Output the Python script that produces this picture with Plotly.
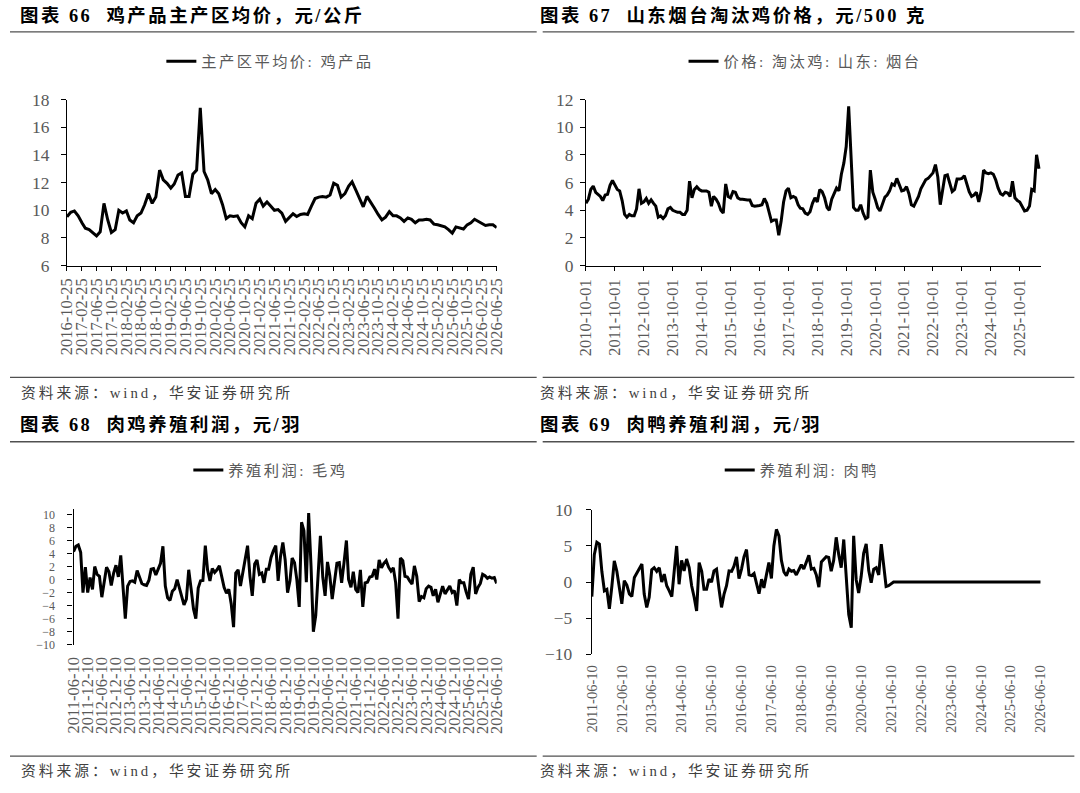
import pandas as pd
import plotly.graph_objects as go

W, H = 1080, 793

# 图表66 鸡产品主产区均价, 元/公斤 (month by month, from 2016-10-25)
egg_start = "2016-10-25"
egg_end = "2026-06-25"
egg_price = [
    9.53, 9.85, 9.95, 9.6, 9.1, 8.7, 8.6, 8.35, 8.15, 8.45,
    10.5, 9.3, 8.4, 8.6, 10.0, 9.8, 9.95, 9.3, 9.1, 9.6,
    9.8, 10.4, 11.2, 10.5, 10.95, 12.9, 12.2, 11.95, 11.6, 11.9,
    12.55, 12.7, 11.0, 11.0, 12.6, 12.9, 17.4, 12.8, 12.2, 11.2,
    11.5, 11.2, 10.4, 9.4, 9.6, 9.55, 9.6, 9.1, 8.8, 9.6,
    9.4, 10.5, 10.8, 10.3, 10.6, 10.3, 10.0, 10.05, 9.8, 9.2,
    9.5, 9.75, 9.55, 9.7, 9.75, 9.7, 10.3, 10.85, 10.95, 11.0,
    10.95, 11.1, 11.95, 11.8, 10.95, 11.2, 11.75, 12.05, 11.45, 10.85,
    10.25, 11.0, 10.6, 10.15, 9.7, 9.3, 9.5, 9.9, 9.6, 9.6,
    9.45, 9.2, 9.45, 9.35, 9.1, 9.3, 9.3, 9.35, 9.3, 9.0,
    8.95, 8.9, 8.8, 8.6, 8.35, 8.8, 8.7, 8.65, 8.95, 9.1,
    9.35, 9.2, 9.05, 8.9, 8.95, 8.95, 8.75,
]

# 图表67 山东烟台淘汰鸡价格, 元/500克 (from 2010-10-01)
hen_start = "2010-10-01"
hen_end = "2026-07-01"
hen_price = [
    4.5, 4.8, 5.5, 5.75, 5.3, 5.15, 5.0, 4.7, 5.1, 5.15,
    5.8, 6.15, 5.8, 5.5, 5.4, 4.7, 3.7, 3.5, 3.7, 3.6,
    3.6, 4.1, 5.55, 4.5, 4.6, 4.85, 4.5, 4.75, 4.5, 4.3,
    3.5, 3.6, 3.4, 3.6, 4.1, 4.2, 4.0, 3.9, 3.85, 3.85,
    3.7, 3.7, 4.0, 6.1, 4.9, 5.5, 5.7, 5.5, 5.4, 5.4,
    5.4, 5.3, 4.3, 5.0, 4.8, 4.5, 4.0, 3.8, 5.9, 5.0,
    4.9, 5.35, 5.3, 4.9, 4.8, 4.8, 4.75, 4.75, 4.75, 4.35,
    4.3, 4.3, 4.35, 4.4, 4.85, 4.5, 3.9, 3.2, 3.3, 3.3,
    2.2, 3.2, 4.6, 5.4, 5.6, 4.9, 5.0, 4.9, 4.4, 4.15,
    4.1, 3.8, 3.7, 3.9, 4.5, 4.9, 4.6, 5.5, 5.35, 4.9,
    4.2, 4.0, 4.8, 5.2, 5.6, 5.4, 6.6, 7.4, 8.6, 11.5,
    7.4, 4.2, 4.0, 4.0, 4.4, 3.8, 3.4, 3.5, 6.9, 5.3,
    4.8, 4.2, 3.95, 4.5, 4.95, 5.1, 5.4, 5.9, 5.8, 6.3,
    5.8, 5.4, 5.45, 5.7, 5.2, 4.4, 4.3, 4.6, 5.0, 5.55,
    5.9, 6.2, 6.3, 6.5, 6.7, 7.3, 6.4, 4.4, 5.6, 6.5,
    6.55, 6.0, 5.35, 5.5, 6.25, 6.25, 6.3, 6.5, 5.95, 5.35,
    5.0, 5.1, 5.3, 4.6, 5.4, 6.9, 6.7, 6.65, 6.7, 6.6,
    6.2, 5.6, 5.2, 5.1, 5.3, 5.25, 5.0, 6.1, 4.9, 4.7,
    4.6, 4.25, 3.95, 4.0, 4.3, 5.5, 5.4, 8.0, 7.0,
]

# 图表68 肉鸡养殖利润, 元/羽 (from 2011-06-10)
broiler_start = "2011-06-10"
broiler_end = "2026-06-10"
broiler_profit = [
    4.3, 5.1, 5.3, 4.2, -2.0, 1.9, -2.0, 0.3, -1.5, 2.0,
    0.8, 0.5, -2.7, -0.5, 1.9, 1.2, -0.9, 1.0, 2.2, 0.4,
    3.7, -0.9, -6.0, -1.0, -0.3, -0.2, -0.4, 1.4, 0.3, -0.6,
    -0.8, -0.9, -0.1, 1.6, 1.7, 0.7, 1.6, 2.5, 5.1, -1.0,
    -2.8, -3.2, -1.8, -1.4, 0.0, -1.2, -2.2, -3.9, -3.0, 1.5,
    -1.4, -4.5, -6.0, -1.3, -0.2, -0.15, 5.2, 1.5, -0.2, 1.7,
    1.1, 1.5, 2.1, 0.2, -1.2, -2.1, -1.5, -3.7, -7.3, 1.0,
    1.5, -1.0, 1.1, 3.3, 5.2, 0.5, -2.5, 2.4, 3.0, 0.8,
    1.0, -0.5, 1.6, 1.6, 3.4, 4.4, 5.2, -0.2, 3.5, 5.7,
    3.0, -2.0, -0.2, 3.3, 2.6, 0.0, -4.2, 8.8, 7.5, -0.4,
    10.2, 2.0, -8.0, -5.5, 1.0, 6.7, 0.35, -2.5, 2.7, 0.6,
    -3.0, -0.4, 2.5, 2.6, -0.5, 2.6, 6.0, 0.0, -1.2, 1.2,
    -1.5, -2.0, 1.5, -4.2, -0.5, -0.4, 0.4, 0.5, 1.6, 0.0,
    3.0, 1.8, 2.5, 2.9, 1.9, 1.3, 1.8, -0.5, -6.0, 3.3,
    2.9, 0.5, 0.4, -0.2, -0.7, 2.1, 0.5, -3.4, -2.6, -2.8,
    -1.4, -1.0, -1.2, -2.5, -1.5, -3.5, -2.0, -1.0, -2.2, -1.5,
    -1.0, -2.0, -1.7, -4.0, 0.0, -0.5, -0.5, -1.9, -3.0, 0.8,
    1.9, -2.2, -1.2, -0.6, 0.8, 0.6, 0.2, 0.4, 0.2, 0.3,
    -0.6,
]

# 图表69 肉鸭养殖利润, 元/羽 (from 2011-06-10, flat at 0 after mid-2021)
duck_start = "2011-06-10"
duck_end = "2026-06-10"
duck_profit = [
    -2.0, 3.8, 5.5, 5.25, 1.5, -1.2, -1.0, -3.7, -0.5, 2.95,
    1.5, -1.0, -3.0, 0.2, -0.4, -1.65, -2.0, 0.65, 1.3, 1.8,
    2.5, -1.65, -3.5, -2.1, 1.7, 2.0, 1.5, 2.0, 0.0, 1.1,
    -0.5, -1.2, -2.0, 1.35, 5.0, -0.3, 3.0, 1.55, 3.2, 2.0,
    -0.5, -2.1, -4.0, 2.7, 1.5, -1.0, -1.0, 0.4, 0.0, 1.55,
    1.8, -1.0, -3.5, -1.65, -0.5, 1.55, 1.5, 2.2, 3.5, 0.5,
    1.8, 3.5, 4.5, 1.0, 0.9, 1.2, -0.2, -1.6, 0.4, -0.8,
    1.0, 2.7, 0.5, 5.0, 7.3, 6.4, 3.0, 1.4, 0.9, 1.8,
    1.5, 1.6, 1.0, 1.6, 2.4, 1.8, 2.7, 3.7, 1.8, 1.9,
    1.0, -0.7, 2.8, 3.2, 3.5, 3.4, 1.5, 3.0, 6.2, 3.8,
    2.0, 5.9, 1.0, -4.5, -6.3, 6.4, 0.3, -1.5, 0.8, 4.0,
    5.3, 1.6, -0.1, 1.8, 2.0, 1.0, 5.25, 2.0, -0.6, -0.5,
    -0.2, 0, 0, 0, 0, 0, 0, 0, 0, 0,
    0, 0, 0, 0, 0, 0, 0, 0, 0, 0,
    0, 0, 0, 0, 0, 0, 0, 0, 0, 0,
    0, 0, 0, 0, 0, 0, 0, 0, 0, 0,
    0, 0, 0, 0, 0, 0, 0, 0, 0, 0,
    0, 0, 0, 0, 0, 0, 0, 0, 0, 0,
    0,
]

titles = ["图表 66  鸡产品主产区均价，元/公斤", "图表 67  山东烟台淘汰鸡价格，元/500 克",
          "图表 68  肉鸡养殖利润，元/羽", "图表 69  肉鸭养殖利润，元/羽"]
legend_names = ["主产区平均价: 鸡产品", "价格: 淘汰鸡: 山东: 烟台", "养殖利润: 毛鸡", "养殖利润: 肉鸭"]
source_text = "资料来源：wind，华安证券研究所"

SERIF = "Liberation Serif, Noto Sans CJK SC, serif"
GREY = "#595959"

# the photographed page comes out shifted ~7px and shrunk ~2%,
# so positions below are given in target-picture pixels and mapped back here
CAP_X0, CAP_SX = 7.0, 0.983
CAP_Y0, CAP_SY = 7.5, 0.978


def px(x):
    return (x - CAP_X0) / CAP_SX / W


def py(y):
    return 1 - (y - CAP_Y0) / CAP_SY / H


def fs(size):
    return round(size / CAP_SY, 1)


def monthly(start, n):
    return pd.date_range(start, periods=n, freq=pd.DateOffset(months=1))


def day_list(start, end, months):
    rng = pd.date_range(start, end, freq=pd.DateOffset(months=months))
    return [d.strftime("%Y-%m-%d") for d in rng]


def spaced(text, sp):
    return '<span style="letter-spacing:%spx">%s</span>' % (sp, text)


egg_ticks = day_list("2016-10-25", "2026-06-25", 4)
hen_ticks = day_list("2010-10-01", "2025-10-01", 12)
broiler_ticks = day_list("2011-06-10", "2026-06-10", 6)
duck_ticks = day_list("2011-06-10", "2026-06-10", 12)

series = [
    (monthly(egg_start, len(egg_price)), egg_price, "x", "y", "legend"),
    (monthly(hen_start, len(hen_price)), hen_price, "x2", "y2", "legend2"),
    (monthly(broiler_start, len(broiler_profit)), broiler_profit, "x3", "y3", "legend3"),
    (monthly(duck_start, len(duck_profit)), duck_profit, "x4", "y4", "legend4"),
]

fig = go.Figure()
for (dates, vals, xa, ya, lg), name in zip(series, legend_names):
    fig.add_trace(go.Scatter(x=dates, y=vals, mode="lines", name=spaced(name, 2.4),
                             line=dict(color="black", width=3),
                             xaxis=xa, yaxis=ya, legend=lg, showlegend=True))

tickfont = dict(family=SERIF, size=fs(17), color=GREY)
base_axis = dict(showgrid=False, zeroline=False, showline=True, linecolor="black",
                 linewidth=1.2, ticks="outside", tickcolor="black", tickwidth=1.2,
                 tickfont=tickfont)


def date_axis(domain, anchor, rng, tickvals, standoff, size=16.5, line=True):
    ax = dict(base_axis, domain=domain, anchor=anchor, type="date", range=rng,
              tickvals=tickvals, tickformat="%Y-%m-%d", tickangle=-90,
              ticklen=4, ticklabelstandoff=standoff,
              tickfont=dict(tickfont, size=size))
    if not line:
        ax.update(showline=False, ticks="")
    return ax


def zero_axis(base, domain, rng, tickvals, ypos):
    return dict(overlaying=base, anchor="free", position=ypos, domain=domain,
                type="date", range=rng, tickvals=tickvals, showticklabels=False,
                showgrid=False, zeroline=False, showline=True, linecolor="black",
                linewidth=1.2, ticks="outside", ticklen=3, tickcolor="black")


dom1 = [px(64), px(494)]
dom2 = [px(583.3), px(1039)]
dom3 = [px(70.6), px(494)]
dom4 = [px(589.2), px(1038.3)]

legend_base = dict(xanchor="left", yanchor="middle", bgcolor="rgba(0,0,0,0)",
                   font=dict(family=SERIF, size=fs(15), color=GREY), borderwidth=0)

fig.update_layout(
    width=W, height=H, margin=dict(l=0, r=0, t=0, b=0),
    paper_bgcolor="white", plot_bgcolor="white",
    xaxis=date_axis(dom1, "y", [egg_start, egg_end], egg_ticks, 1),
    yaxis=dict(base_axis, domain=[py(264), py(97.3)], anchor="x", range=[6, 18],
               dtick=2, tick0=6, ticklen=5, ticklabelstandoff=8),
    xaxis2=date_axis(dom2, "y2", [hen_start, hen_end], hen_ticks, 2),
    yaxis2=dict(base_axis, domain=[py(264), py(97.3)], anchor="x2", range=[0, 12],
                dtick=2, tick0=0, ticklen=5, ticklabelstandoff=3),
    xaxis3=date_axis(dom3, "y3", [broiler_start, broiler_end], broiler_ticks, 8,
                     line=False),
    yaxis3=dict(base_axis, domain=[py(644.3), py(507.7)], anchor="x3", range=[-10, 10.9],
                tickvals=list(range(-10, 11, 2)), ticklen=5, ticklabelstandoff=10,
                tickfont=dict(tickfont, size=12)),
    xaxis5=zero_axis("x3", dom3, [broiler_start, broiler_end], broiler_ticks, py(579)),
    xaxis4=date_axis(dom4, "y4", [duck_start, duck_end], duck_ticks, 7, size=14.5,
                     line=False),
    yaxis4=dict(base_axis, domain=[py(654), py(509)], anchor="x4", range=[-10, 10],
                dtick=5, tick0=-10, ticklen=5, ticklabelstandoff=10),
    xaxis6=zero_axis("x4", dom4, [duck_start, duck_end], duck_ticks, py(581.5)),
    legend=dict(legend_base, x=px(167) - 8.7 / W, y=py(59)),
    legend2=dict(legend_base, x=px(689.5) - 8.7 / W, y=py(59)),
    legend3=dict(legend_base, x=px(194) - 8.7 / W, y=py(469)),
    legend4=dict(legend_base, x=px(725.7) - 8.7 / W, y=py(469)),
)

# titles and source notes
ann = []
for text, x, y in zip(titles, [15, 535, 15, 535], [13, 13, 423, 423]):
    ann.append(dict(text="<b>" + spaced(text, 2.5) + "</b>", x=px(x), y=py(y),
                    xref="paper", yref="paper", xanchor="left", yanchor="middle",
                    align="left", showarrow=False,
                    font=dict(family=SERIF, size=fs(18), color="black")))
for x, y in zip([16.5, 535.5, 16.5, 535.5], [392, 392, 771, 771]):
    ann.append(dict(text=spaced(source_text, 2.95), x=px(x), y=py(y),
                    xref="paper", yref="paper", xanchor="left", yanchor="middle",
                    align="left", showarrow=False,
                    font=dict(family=SERIF, size=fs(14.5), color="#404040")))
fig.update_layout(annotations=ann)

# separator rules under titles and above sources
shapes = []
for y in [29.5, 376, 440.7, 756]:
    for x0, x1 in [(7, 534), (540, 1072)]:
        shapes.append(dict(type="line", xref="paper", yref="paper",
                           x0=px(x0), x1=px(x1), y0=py(y), y1=py(y),
                           line=dict(color="#505050", width=1.3)))
fig.update_layout(shapes=shapes)

# let the 1080x793 figure sit flush in the window
page_css = ("document.documentElement.style.margin='0';"
            "document.documentElement.style.padding='0';"
            "document.body.style.margin='0';document.body.style.padding='0';"
            "document.body.style.overflow='hidden';")
fig.write_html("out.html", post_script=page_css, config={"displayModeBar": False})
